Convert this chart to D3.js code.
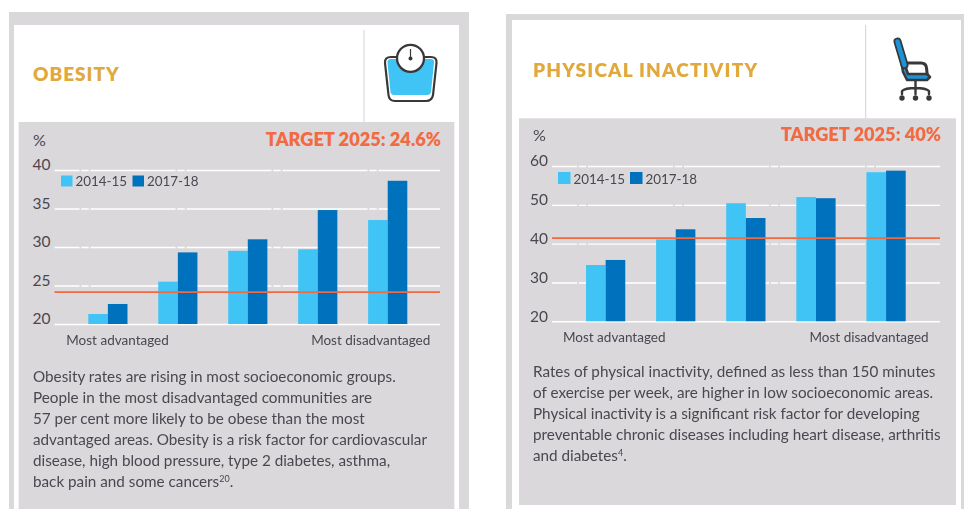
<!DOCTYPE html>
<html>
<head>
<meta charset="utf-8">
<script src="https://cdnjs.cloudflare.com/ajax/libs/d3/7.8.5/d3.min.js"></script>
<style>
  html, body { margin: 0; padding: 0; background: #fff; }
  svg { display: block; filter: blur(0.35px); }
  text { font-family: Lato, "Open Sans", sans-serif; fill: #4b4650; }
</style>
</head>
<body>
<div id="chart"></div>
<script>
// 数据
const groups = ['Q1', 'Q2', 'Q3', 'Q4', 'Q5'];
const years = ['2014-15', '2017-18'];

const obesity2014 = [21.3, 25.5, 29.5, 29.7, 33.5];
const obesity2017 = [22.6, 29.3, 31.0, 34.8, 38.6];
const obesityTicks = [20, 25, 30, 35, 40];
const obesityTargetLine = 24.15;
const obesityText = [
  'Obesity rates are rising in most socioeconomic groups.',
  'People in the most disadvantaged communities are',
  '57 per cent more likely to be obese than the most',
  'advantaged areas. Obesity is a risk factor for cardiovascular',
  'disease, high blood pressure, type 2 diabetes, asthma,',
  'back pain and some cancers'
];

const inactivity2014 = [34.5, 41.1, 50.4, 52.0, 58.4];
const inactivity2017 = [35.8, 43.7, 46.6, 51.7, 58.8];
const inactivityTicks = [20, 30, 40, 50, 60];
const inactivityTargetLine = 41.4;
const inactivityText = [
  'Rates of physical inactivity, defined as less than 150 minutes',
  'of exercise per week, are higher in low socioeconomic areas.',
  'Physical inactivity is a significant risk factor for developing',
  'preventable chronic diseases including heart disease, arthritis',
  'and diabetes'
];

const GREY = '#dad8db';
const LIGHT = '#40c4f5';
const DARK = '#0071bc';
const ORANGE = '#f26a41';
const GOLD = '#e1a93b';
const ICON = '#38383a';

const svg = d3.select('#chart').append('svg').attr('width', 964).attr('height', 509);

function rect(x0, y0, x1, y1, fill) {
  return svg.append('rect').attr('x', x0).attr('y', y0)
    .attr('width', x1 - x0).attr('height', y1 - y0).attr('fill', fill);
}

/**
 * 绘制一张卡片
 * @param {Object} c - 布局和内容
 */
function drawCard(c) {
  // 卡片外框
  rect(c.outer[0], c.outer[1], c.outer[2], c.outer[3], GREY);
  rect(c.white[0], c.white[1], c.white[2], c.white[3], '#fff');
  rect(c.panel[0], c.panel[1], c.panel[2], c.panel[3], GREY);
  rect(c.dividerX - 0.5, c.white[1] + 5, c.dividerX + 0.5, c.panel[1], '#d4d2d5');

  svg.append('text').attr('x', c.textX).attr('y', c.titleY)
    .style('font-size', '19px').style('font-weight', 800)
    .style('letter-spacing', c.titleSpacing)
    .style('fill', GOLD).text(c.title);

  svg.append('text').attr('x', c.textX).attr('y', c.percentY)
    .style('font-size', '16px').text('%');

  svg.append('text').attr('x', c.xEnd + 1).attr('y', c.percentY)
    .attr('text-anchor', 'end')
    .style('font-size', '18.2px').style('font-weight', 800)
    .style('fill', ORANGE).text(c.target);

  const y = d3.scaleLinear().domain([20, d3.max(c.ticks)]).range([c.yBottom, c.yTop]);
  const x = d3.scaleBand().domain(groups).range(c.barRange).paddingInner(0.44);
  const x1 = d3.scaleBand().domain(years).range([0, x.bandwidth()]);

  // 网格和 y 轴
  const yAxis = svg.append('g')
    .attr('transform', `translate(${c.xStart},0)`)
    .call(d3.axisLeft(y).tickValues(c.ticks).tickSize(-(c.xEnd - c.xStart)).tickPadding(4));
  yAxis.select('.domain').remove();
  yAxis.selectAll('line')
    .attr('stroke', '#fff').attr('stroke-width', 1.4)
    .attr('stroke-dasharray', d => d === 20 ? null : '85 1.8 7.5 1.7')
    .attr('stroke-dashoffset', 60);
  yAxis.selectAll('text')
    .attr('dy', '-0.02em')
    .style('font-size', '15.5px')
    .style('font-family', 'Lato, sans-serif');

  // 柱子
  [c.first, c.second].forEach((values, i) => {
    svg.append('g').selectAll('rect')
      .data(values)
      .enter().append('rect')
      .attr('x', (d, j) => x(groups[j]) + x1(years[i]))
      .attr('y', d => y(d))
      .attr('width', x1.bandwidth())
      .attr('height', d => y(20) - y(d))
      .attr('fill', i === 0 ? LIGHT : DARK);
  });

  // 目标线
  svg.append('line')
    .attr('x1', c.xStart).attr('x2', c.xEnd)
    .attr('y1', y(c.targetLine)).attr('y2', y(c.targetLine))
    .attr('stroke', ORANGE).attr('stroke-width', 1.7);

  // 图例
  years.forEach((name, i) => {
    const lx = c.legendX[i];
    svg.append('rect').attr('x', lx).attr('y', c.legendY)
      .attr('width', c.swatch).attr('height', c.swatch - 0.5)
      .attr('fill', i === 0 ? LIGHT : DARK);
    svg.append('text').attr('x', lx + c.swatch + 3).attr('y', c.legendY + c.swatch - 1)
      .style('font-size', '13.4px').text(name);
  });

  // x 轴两端标签
  const labelY = c.yBottom + 21;
  svg.append('text').attr('x', x(groups[0]) - c.labelInset).attr('y', labelY)
    .style('font-size', '13.5px').text('Most advantaged');
  svg.append('text').attr('x', x(groups[4]) + x.bandwidth() + 23).attr('y', labelY)
    .attr('text-anchor', 'end')
    .style('font-size', '13.5px').text('Most disadvantaged');

  // 说明文字
  c.lines.forEach((line, i) => {
    const t = svg.append('text').attr('x', c.textX).attr('y', c.bodyY + i * 21)
      .style('font-size', '15.25px').text(line);
    if (i === c.lines.length - 1) {
      t.append('tspan').attr('dy', -5).style('font-size', '9px').text(c.note);
      t.append('tspan').attr('dy', 5).text('.');
    }
  });
}

drawCard({
  outer: [9, 12, 469, 509], white: [14, 25, 459, 509], panel: [18.7, 122, 454.3, 509],
  dividerX: 364, textX: 33, title: 'OBESITY', titleY: 81, titleSpacing: '1px',
  percentY: 146, target: 'TARGET 2025: 24.6%',
  ticks: obesityTicks, first: obesity2014, second: obesity2017, targetLine: obesityTargetLine,
  yTop: 170, yBottom: 324, xStart: 54.5, xEnd: 440, barRange: [88.3, 407.3], labelInset: 22,
  legendX: [61, 132.5], legendY: 175.5, swatch: 11.5,
  lines: obesityText, note: '20', bodyY: 382
});

drawCard({
  outer: [506, 14, 964, 509], white: [512, 20, 961, 509], panel: [519, 118.3, 956, 505],
  dividerX: 865.7, textX: 533, title: 'PHYSICAL INACTIVITY', titleY: 77, titleSpacing: '1.2px',
  percentY: 141, target: 'TARGET 2025: 40%',
  ticks: inactivityTicks, first: inactivity2014, second: inactivity2017, targetLine: inactivityTargetLine,
  yTop: 166, yBottom: 321.3, xStart: 552, xEnd: 940, barRange: [586, 905.7], labelInset: 23,
  legendX: [558, 630], legendY: 172, swatch: 12.5,
  lines: inactivityText, note: '4', bodyY: 377
});

// 图标：体重秤
const scale = svg.append('g');
scale.append('path')
  .attr('d', 'M391 57 H431 Q437 57 436.5 63 L433 95 Q432 101 426 101 H395 Q389 101 388.5 95 L385 63 Q384.5 57 391 57 Z')
  .attr('fill', '#fff').attr('stroke', ICON).attr('stroke-width', 2.2);
scale.append('path')
  .attr('d', 'M391 59 H431 Q434.5 59 434 63 L431 92 Q430.5 95 427 95 H394 Q391 95 390.5 92 L387.5 63 Q387 59 391 59 Z')
  .attr('fill', LIGHT);
scale.append('circle').attr('cx', 410.5).attr('cy', 58.3).attr('r', 13.5)
  .attr('fill', '#fff').attr('stroke', ICON).attr('stroke-width', 2.3);
scale.append('line').attr('x1', 410.5).attr('x2', 410.5).attr('y1', 49).attr('y2', 58)
  .attr('stroke', ICON).attr('stroke-width', 1.2);
scale.append('circle').attr('cx', 410.5).attr('cy', 58.5).attr('r', 2).attr('fill', ICON);

// 图标：办公椅
const chair = svg.append('g').attr('stroke-linecap', 'round').attr('stroke-linejoin', 'round');
chair.append('path').attr('d', 'M906 63 H921 Q926 63 926.5 68 L927.5 77')
  .attr('fill', 'none').attr('stroke', ICON).attr('stroke-width', 3);
chair.append('path').attr('d', 'M898 42 L905 65 L908 74 H927 L930 77 L927 80 H907 L903 72 Z')
  .attr('fill', '#1b93d6').attr('stroke', ICON).attr('stroke-width', 2.5);
chair.append('path').attr('d', 'M897.5 41.5 L904.5 65')
  .attr('fill', 'none').attr('stroke', ICON).attr('stroke-width', 8);
chair.append('path').attr('d', 'M897.5 41.5 L904.5 65')
  .attr('fill', 'none').attr('stroke', '#1b93d6').attr('stroke-width', 4.5);
chair.append('path').attr('d', 'M915.5 81 V90 M915.5 88 Q905 88 902 91 V94 M915.5 88 Q926 88 929 91 V94 M915.5 88 V94')
  .attr('fill', 'none').attr('stroke', ICON).attr('stroke-width', 2.4);
[902, 915.5, 929].forEach(cx => {
  chair.append('circle').attr('cx', cx).attr('cy', 98).attr('r', 2.7).attr('fill', ICON);
});
</script>
</body>
</html>
